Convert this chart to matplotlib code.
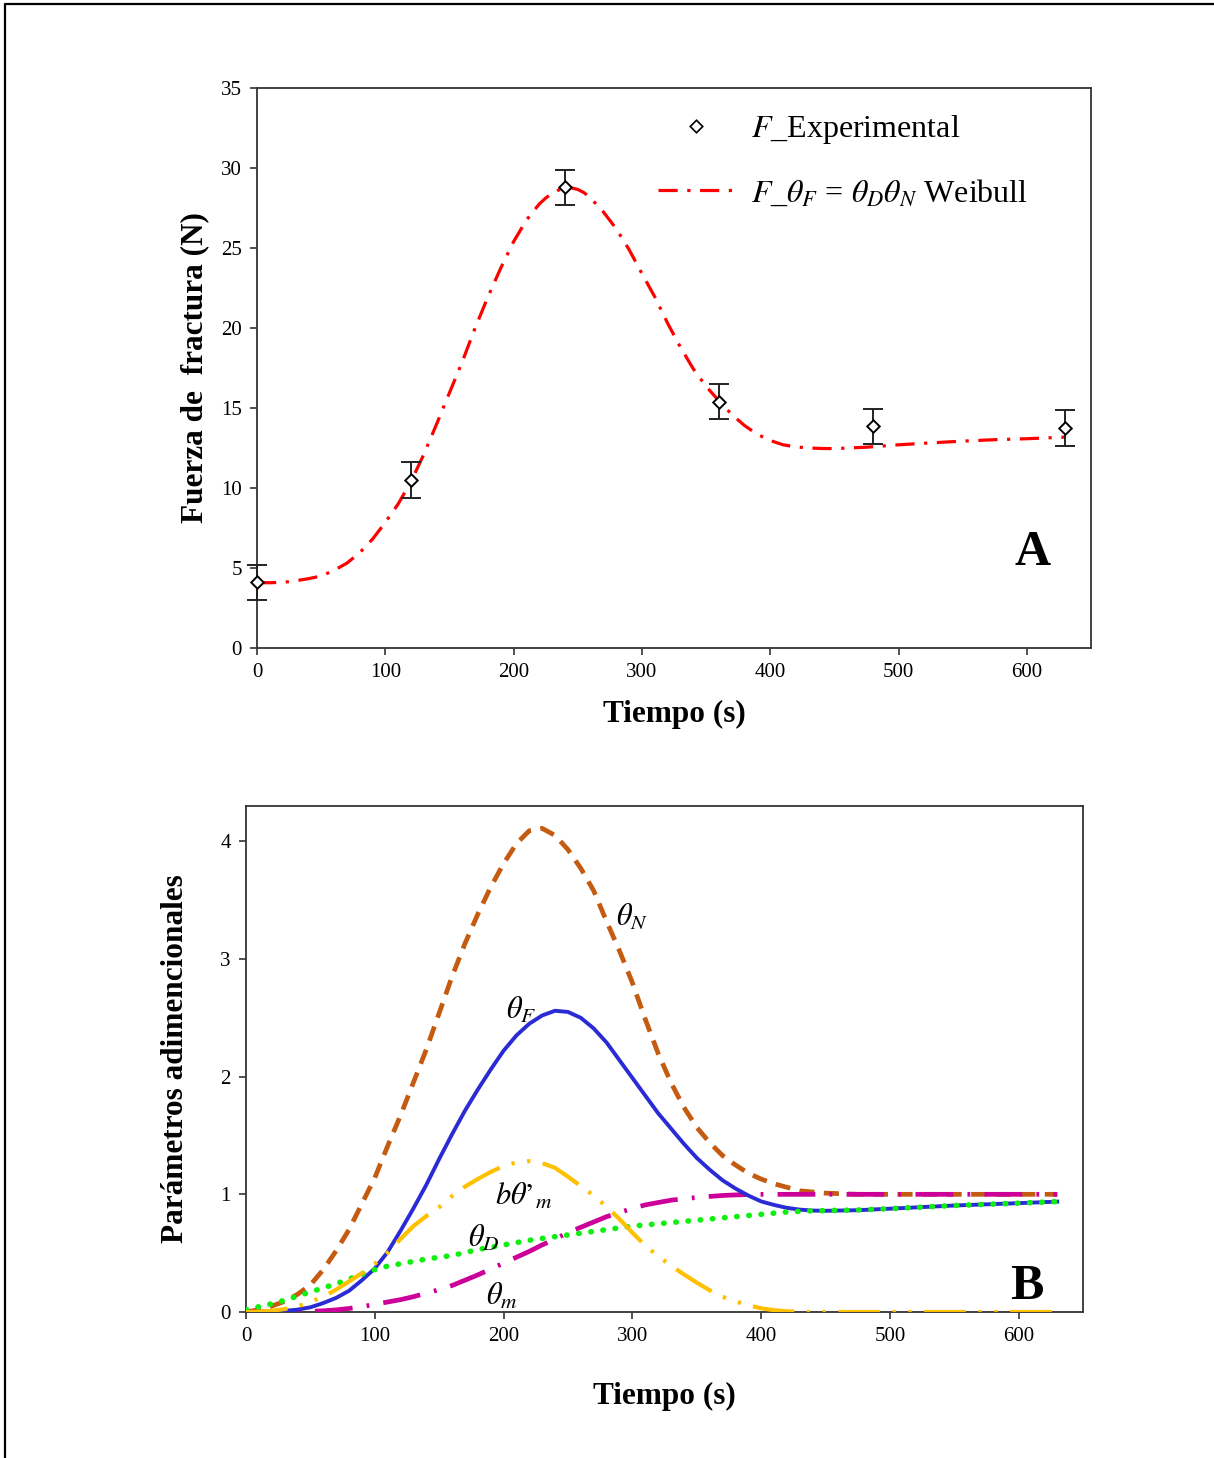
import matplotlib
matplotlib.use("Agg")
import matplotlib.pyplot as plt
from matplotlib.lines import Line2D

plt.rcParams['font.family'] = ['Liberation Serif', 'DejaVu Serif']
plt.rcParams['mathtext.fontset'] = 'stix'

# --- panel A: fracture force ---
t_exp = [0, 120, 240, 360, 480, 630]
f_exp = [4.1, 10.5, 28.8, 15.4, 13.85, 13.75]
f_err = [1.1, 1.1, 1.1, 1.1, 1.1, 1.1]

t_fit = [0, 10, 20, 30, 40, 50, 60, 70, 80, 90, 100, 110, 120, 130, 140, 150,
         160, 170, 180, 190, 200, 210, 220, 225, 230, 235, 240, 245, 250, 255,
         260, 270, 280, 290,
         300, 310, 320, 330, 340, 350, 360, 370, 380, 390, 400, 410, 420, 430,
         440, 450, 475, 500, 525, 550, 575, 600, 630]
f_fit = [4.08, 4.08, 4.1, 4.2, 4.33, 4.5, 4.85, 5.3, 5.95, 6.8, 7.85, 9.0,
         10.4, 12.1, 14.0, 15.95, 17.9, 20.0, 21.95, 23.75, 25.4, 26.75, 27.75,
         28.12, 28.42, 28.62, 28.74, 28.76, 28.66, 28.45,
         28.12, 27.25, 26.2, 24.9, 23.4, 21.95, 20.3, 18.8,
         17.45, 16.35, 15.45, 14.6, 13.9, 13.35, 12.97, 12.7, 12.57, 12.5,
         12.47, 12.46, 12.55, 12.7, 12.82, 12.93, 13.02, 13.08, 13.18]

# --- panel B: dimensionless parameters ---
t_b = [0, 10, 20, 30, 40, 50, 60, 70, 80, 90, 100, 110, 120, 130, 140, 150,
       160, 170, 180, 190, 200, 210, 220, 230, 240, 250, 260, 270, 280, 290,
       300, 310, 320, 330, 340, 350, 360, 370, 380, 390, 400, 410, 420, 430,
       440, 450, 475, 500, 550, 600, 630]
theta_N = [0.0, 0.02, 0.05, 0.09, 0.15, 0.23, 0.36, 0.52, 0.70, 0.92, 1.14,
           1.41, 1.67, 1.95, 2.23, 2.54, 2.85, 3.13, 3.38, 3.61, 3.81, 3.98,
           4.09, 4.11, 4.05, 3.93, 3.77, 3.58, 3.32, 3.07, 2.80, 2.49, 2.20,
           1.95, 1.74, 1.57, 1.44, 1.33, 1.25, 1.18, 1.13, 1.09, 1.06, 1.03,
           1.02, 1.01, 1.0, 1.0, 1.0, 1.0, 1.0]
theta_F = [0.0, 0.0, 0.003, 0.01, 0.02, 0.04, 0.076, 0.12, 0.18, 0.27, 0.37,
           0.51, 0.69, 0.88, 1.08, 1.30, 1.51, 1.71, 1.89, 2.06, 2.22, 2.35,
           2.45, 2.52, 2.56, 2.55, 2.50, 2.41, 2.29, 2.14, 1.99, 1.84, 1.69,
           1.56, 1.43, 1.31, 1.21, 1.12, 1.05, 0.99, 0.94, 0.91, 0.885, 0.87,
           0.862, 0.86, 0.865, 0.878, 0.905, 0.925, 0.938]
theta_D = [0.02, 0.045, 0.07, 0.10, 0.135, 0.17, 0.205, 0.24, 0.28, 0.32, 0.36,
           0.39, 0.41, 0.43, 0.45, 0.465, 0.48, 0.505, 0.53, 0.55, 0.57, 0.59,
           0.61, 0.625, 0.64, 0.655, 0.67, 0.685, 0.70, 0.715, 0.73, 0.74,
           0.75, 0.76, 0.77, 0.78, 0.79, 0.80, 0.81, 0.82, 0.83, 0.84, 0.85,
           0.855, 0.86, 0.862, 0.867, 0.878, 0.905, 0.925, 0.938]
theta_m = [0.0, 0.0, 0.0, 0.0, 0.0, 0.005, 0.01, 0.018, 0.03, 0.045, 0.065,
           0.085, 0.105, 0.13, 0.16, 0.19, 0.225, 0.27, 0.315, 0.365, 0.415,
           0.465, 0.515, 0.57, 0.62, 0.675, 0.72, 0.765, 0.81, 0.845, 0.88,
           0.91, 0.93, 0.95, 0.963, 0.973, 0.982, 0.99, 0.995, 0.998, 1.0,
           1.0, 1.0, 1.0, 1.0, 1.0, 1.0, 1.0, 1.0, 1.0, 1.0]
b_dtheta_m = [0.0, 0.003, 0.01, 0.025, 0.048, 0.085, 0.13, 0.19, 0.26, 0.33,
              0.41, 0.505, 0.62, 0.73, 0.815, 0.89, 0.985, 1.065, 1.13, 1.19,
              1.24, 1.272, 1.282, 1.265, 1.225, 1.15, 1.07, 0.99, 0.895, 0.79,
              0.675, 0.565, 0.475, 0.395, 0.32, 0.25, 0.185, 0.13, 0.09, 0.057,
              0.032, 0.015, 0.006, 0.002, 0.0, 0.0, 0.0, 0.0, 0.0, 0.0, 0.0]

W, H = 1214, 1458
fig = plt.figure(figsize=(W / 100, H / 100), dpi=100)

# outer frame (left and top edges only)
fig.add_artist(Line2D([5 / W, 5 / W, 1.0], [0.0, 1 - 4 / H, 1 - 4 / H],
                      transform=fig.transFigure, color='black', lw=1.6))

spine_col = '#333333'
tick_fs = 15
lab_fs = 22.5
diamond = (4, 0, 0)


def style_axes(ax):
    for s in ax.spines.values():
        s.set_color(spine_col)
        s.set_linewidth(1.3)
    ax.tick_params(direction='out', length=5, width=1.2, color=spine_col,
                   labelsize=tick_fs, pad=6)
    ax.tick_params(axis='y', which='both', right=False)
    ax.tick_params(axis='x', which='both', top=False)


# ---------------- panel A ----------------
axA = fig.add_axes([257 / W, 1 - 648 / H, (1091 - 257) / W, (648 - 88) / H])
fit_line, = axA.plot(t_fit, f_fit, color='red', lw=2.3, ls=(0, (6, 3, 1, 3)),
                     zorder=2)
axA.errorbar(t_exp, f_exp, yerr=f_err, fmt='none', ecolor='#222222',
             elinewidth=1.4, capsize=7, capthick=1.4, clip_on=False, zorder=3)
axA.plot(t_exp, f_exp, ls='none', marker=diamond, ms=9, mfc='white',
         mec='black', mew=1.4, clip_on=False, zorder=4)
axA.set_xlim(0, 650)
axA.set_ylim(0, 35)
axA.set_xticks(range(0, 601, 100))
axA.set_yticks(range(0, 36, 5))
style_axes(axA)
axA.set_xlabel('Tiempo (s)', fontsize=lab_fs, fontweight='bold', labelpad=13)
axA.set_ylabel('Fuerza de  fractura (N)', fontsize=lab_fs, fontweight='bold',
               labelpad=8)
exp_handle = Line2D([], [], ls='none', marker=diamond, ms=9, mfc='white',
                    mec='black', mew=1.2)
axA.legend([exp_handle, fit_line],
           [r'$F$_Experimental', r'$F$_$\theta_F$ = $\theta_D\theta_N$ Weibull'],
           loc='upper left', bbox_to_anchor=(0.481, 0.955), frameon=False,
           fontsize=23, handlelength=2.35, handletextpad=0.55,
           labelspacing=1.0, borderpad=0, borderaxespad=0)
axA.text(0.93, 0.17, 'A', transform=axA.transAxes, fontsize=36,
         fontweight='bold', ha='center', va='center')

# ---------------- panel B ----------------
axB = fig.add_axes([246 / W, 1 - 1312 / H, (1083 - 246) / W, (1312 - 806) / H])
axB.plot(t_b, theta_N, color='#C55A11', lw=3.4, ls=(0, (3.2, 2.0)), zorder=2)
axB.plot(t_b, theta_m, color='#CC0099', lw=3.4, ls=(0, (8, 3, 0.6, 3)),
         zorder=3)
axB.plot(t_b, theta_F, color='#2B2BD6', lw=2.8, zorder=4)
axB.plot(t_b, theta_D, color='#11EE11', lw=4.0, ls=(0, (0.1, 2.1)),
         dash_capstyle='round', zorder=5)
axB.plot(t_b, b_dtheta_m, color='#FFC000', lw=3.0,
         ls=(0, (10, 3, 0.8, 3, 0.8, 3)), zorder=6)
axB.set_xlim(0, 650)
axB.set_ylim(0, 4.3)
axB.set_xticks(range(0, 601, 100))
axB.set_yticks(range(0, 5))
style_axes(axB)
axB.set_xlabel('Tiempo (s)', fontsize=lab_fs, fontweight='bold', labelpad=26)
axB.set_ylabel('Parámetros adimencionales', fontsize=lab_fs,
               fontweight='bold', labelpad=22)

lab_kw = dict(fontsize=22, ha='center', va='center', zorder=7)
axB.text(300, 3.35, r'$\theta_N$', **lab_kw)
axB.text(214, 2.56, r'$\theta_F$', **lab_kw)
axB.text(216, 0.98, r'$b\theta\mathrm{’}_m$', **lab_kw)
axB.text(185, 0.62, r'$\theta_D$', **lab_kw)
axB.text(199, 0.13, r'$\theta_m$', **lab_kw)
axB.text(0.933, 0.049, 'B', transform=axB.transAxes, fontsize=36,
         fontweight='bold', ha='center', va='center')

fig.savefig('out.png', dpi=100)
